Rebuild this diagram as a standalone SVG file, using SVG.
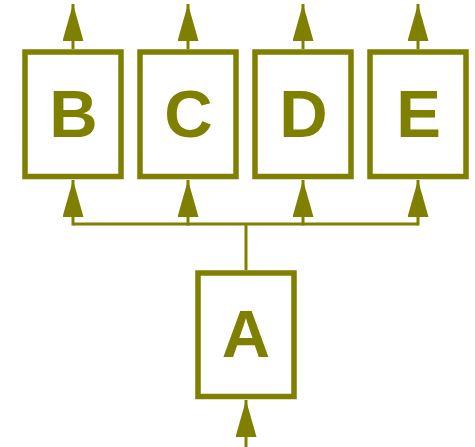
<svg xmlns="http://www.w3.org/2000/svg" width="475" height="447" viewBox="0 0 475 447">
<style>
.box{fill:#ffffff;stroke:#808000;stroke-width:5.5}
.lbl{font-family:"Liberation Sans",Arial,sans-serif;font-weight:bold;font-size:67px;fill:#808000;text-anchor:middle}
.c{fill:none;stroke:#808000;stroke-width:3}
.a{marker-end:url(#arr)}
</style>
<defs>
<marker id="arr" markerUnits="userSpaceOnUse" markerWidth="37" markerHeight="21" viewBox="0 0 37 21" refX="37" refY="10.5" orient="auto">
<path d="M0,0 L37,10.5 L0,21 Z" fill="#808000"/>
</marker>
</defs>
<g id="connectors">
<line class="c a" x1="73" y1="49" x2="73" y2="4"/>
<line class="c a" x1="188" y1="49" x2="188" y2="4"/>
<line class="c a" x1="303" y1="49" x2="303" y2="4"/>
<line class="c a" x1="418" y1="49" x2="418" y2="4"/>
<line class="c" x1="246" y1="270" x2="246" y2="224"/>
<line class="c" x1="73" y1="224" x2="418" y2="224"/>
<line class="c a" x1="73" y1="225.5" x2="73" y2="180"/>
<line class="c a" x1="188" y1="225.5" x2="188" y2="180"/>
<line class="c a" x1="303" y1="225.5" x2="303" y2="180"/>
<line class="c a" x1="418" y1="225.5" x2="418" y2="180"/>
<line class="c a" x1="246" y1="447" x2="246" y2="400"/>
</g>
<g id="B"><rect class="box" x="25" y="52" width="96" height="124.5"/><text class="lbl" x="73.5" y="137">B</text></g>
<g id="C"><rect class="box" x="140" y="52" width="96" height="124.5"/><text class="lbl" x="188.5" y="137">C</text></g>
<g id="D"><rect class="box" x="255" y="52" width="96" height="124.5"/><text class="lbl" x="303.5" y="137">D</text></g>
<g id="E"><rect class="box" x="370" y="52" width="96" height="124.5"/><text class="lbl" x="418.5" y="137">E</text></g>
<g id="A"><rect class="box" x="198" y="273" width="96" height="123.5"/><text class="lbl" x="246" y="357">A</text></g>
</svg>
